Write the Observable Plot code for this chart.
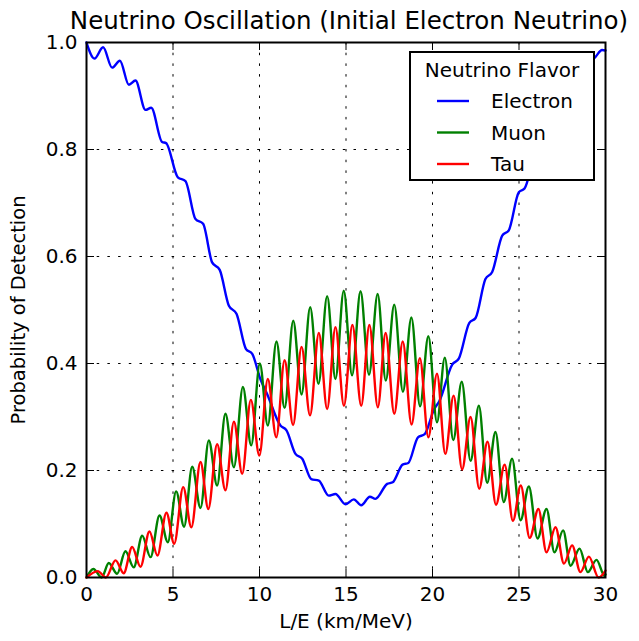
<!DOCTYPE html>
<html>
<head>
<meta charset="utf-8">
<script src="https://cdn.jsdelivr.net/npm/d3@7"></script>
<script src="https://cdn.jsdelivr.net/npm/@observablehq/plot@0.6"></script>
<style>
  html, body { margin: 0; padding: 0; background: white; }
  #chart { width: 639px; height: 641px; }
</style>
</head>
<body>
<div id="chart"></div>
<script>
// ---- data ----
const titleText = "Neutrino Oscillation (Initial Electron Neutrino)";
const xLabel = "L/E (km/MeV)";
const yLabel = "Probability of Detection";
const legendTitle = "Neutrino Flavor";
const flavors = ["Electron", "Muon", "Tau"];
const flavorColors = ["#0000ff", "#008000", "#ff0000"];
const xTicks = [0, 5, 10, 15, 20, 25, 30];
const yTicks = [0, 0.2, 0.4, 0.6, 0.8, 1.0];

const electronX = [0, 0.46, 0.96, 1.48, 1.93, 2.45, 2.83, 3.41, 3.74, 4.37, 4.6, 5.28, 5.72, 6.3, 6.74, 7.26, 7.7, 8.23, 8.67, 9.22, 9.58, 10.06, 10.44, 11.21, 11.56, 12.08, 12.47, 12.99, 13.43, 14.0, 14.39, 14.97, 15.45, 15.88, 16.38, 16.7, 17.38, 17.7, 18.27, 18.6, 19.16, 19.55, 20.1, 20.4, 21.14, 21.52, 22.13, 22.49, 23.06, 23.45, 24.03, 24.41, 24.99, 25.32, 25.95, 26.35, 26.95, 27.3, 27.9, 28.3, 28.9, 29.42, 29.8, 30];
const electronP = [1.0, 0.97, 0.991, 0.953, 0.966, 0.921, 0.929, 0.874, 0.878, 0.814, 0.812, 0.748, 0.741, 0.670, 0.661, 0.589, 0.575, 0.508, 0.493, 0.427, 0.418, 0.370, 0.343, 0.284, 0.275, 0.231, 0.222, 0.184, 0.181, 0.153, 0.156, 0.137, 0.146, 0.135, 0.151, 0.147, 0.175, 0.178, 0.211, 0.214, 0.262, 0.268, 0.315, 0.330, 0.398, 0.409, 0.476, 0.485, 0.558, 0.571, 0.639, 0.649, 0.720, 0.727, 0.790, 0.800, 0.855, 0.860, 0.910, 0.915, 0.955, 0.973, 0.986, 0.985];

const muonX = [0, 0.4, 0.87, 1.29, 1.77, 2.25, 2.73, 3.22, 3.7, 4.22, 4.7, 5.18, 5.64, 6.11, 6.59, 7.07, 7.55, 8.03, 8.52, 9.04, 9.52, 10.02, 10.48, 10.98, 11.45, 11.95, 12.43, 12.93, 13.41, 13.91, 14.39, 14.87, 15.35, 15.84, 16.33, 16.83, 17.3, 17.79, 18.29, 18.78, 19.28, 19.76, 20.26, 20.71, 21.2, 21.69, 22.2, 22.68, 23.16, 23.64, 24.12, 24.6, 25.09, 25.57, 26.07, 26.59, 27.05, 27.55, 27.98, 28.5, 28.98, 29.48, 29.95, 30];
const muonP = [0, 0.016, 0.0, 0.027, 0.007, 0.049, 0.019, 0.078, 0.038, 0.116, 0.066, 0.161, 0.095, 0.207, 0.130, 0.256, 0.172, 0.306, 0.206, 0.356, 0.247, 0.400, 0.284, 0.441, 0.317, 0.480, 0.342, 0.505, 0.362, 0.526, 0.371, 0.536, 0.378, 0.535, 0.379, 0.530, 0.368, 0.510, 0.347, 0.486, 0.320, 0.451, 0.290, 0.411, 0.257, 0.366, 0.218, 0.321, 0.177, 0.272, 0.141, 0.222, 0.107, 0.170, 0.073, 0.128, 0.047, 0.088, 0.022, 0.054, 0.010, 0.033, 0.003, 0.006];

const tauX = [0, 0.65, 1.12, 1.68, 2.15, 2.64, 3.12, 3.64, 4.1, 4.62, 5.07, 5.59, 6.06, 6.59, 7.04, 7.55, 8.03, 8.52, 9.0, 9.5, 9.99, 10.48, 10.97, 11.45, 11.94, 12.43, 12.92, 13.43, 13.91, 14.39, 14.88, 15.37, 15.88, 16.35, 16.84, 17.29, 17.79, 18.28, 18.79, 19.27, 19.76, 20.26, 20.74, 21.22, 21.71, 22.2, 22.7, 23.18, 23.67, 24.17, 24.65, 25.1, 25.62, 26.12, 26.59, 27.11, 27.6, 28.07, 28.55, 29.04, 29.6, 30];
const tauP = [0, 0.012, 0.0, 0.032, 0.008, 0.057, 0.020, 0.086, 0.041, 0.121, 0.063, 0.169, 0.094, 0.216, 0.128, 0.249, 0.163, 0.291, 0.194, 0.332, 0.228, 0.371, 0.262, 0.406, 0.285, 0.431, 0.303, 0.457, 0.315, 0.468, 0.321, 0.472, 0.321, 0.472, 0.318, 0.457, 0.306, 0.441, 0.286, 0.410, 0.262, 0.381, 0.231, 0.340, 0.202, 0.300, 0.166, 0.254, 0.136, 0.211, 0.106, 0.172, 0.074, 0.128, 0.047, 0.094, 0.026, 0.060, 0.010, 0.039, 0.0, 0.013];

// ---- build table ----
const rows = [
  ...electronX.map((x, i) => ({x, p: electronP[i], flavor: "Electron"})),
  ...muonX.map((x, i) => ({x, p: muonP[i], flavor: "Muon"})),
  ...tauX.map((x, i) => ({x, p: tauP[i], flavor: "Tau"}))
];

const W = 639, H = 641, mL = 86, mR = 34, mT = 42, mB = 64;
const frameW = W - mL - mR, frameH = H - mT - mB;
const tickLen = 8;
const grid = {stroke: "black", strokeOpacity: 1, strokeWidth: 1, strokeDasharray: "2.5,8.2"};

const chart = Plot.plot({
  width: W, height: H,
  marginLeft: mL, marginRight: mR, marginTop: mT, marginBottom: mB,
  style: {fontFamily: "'DejaVu Sans', sans-serif", fontSize: "20px", background: "white", color: "black", overflow: "visible"},
  x: {domain: [0, 30]},
  y: {domain: [0, 1]},
  color: {domain: flavors, range: flavorColors},
  marks: [
    Plot.gridX(xTicks, grid),
    Plot.gridY(yTicks, grid),
    Plot.line(rows, {x: "x", y: "p", z: "flavor", stroke: "flavor", strokeWidth: 2.4, curve: "monotone-x"}),
    Plot.ruleX(xTicks, {stroke: "black", strokeWidth: 1, insetTop: frameH - tickLen}),
    Plot.ruleX(xTicks, {stroke: "black", strokeWidth: 1, insetBottom: frameH - tickLen}),
    Plot.ruleY(yTicks, {stroke: "black", strokeWidth: 1, insetRight: frameW - tickLen}),
    Plot.ruleY(yTicks, {stroke: "black", strokeWidth: 1, insetLeft: frameW - tickLen}),
    Plot.frame({stroke: "black", strokeWidth: 2}),
    Plot.axisX(xTicks, {tickSize: 0, tickPadding: 9, label: null, tickFormat: d => String(d)}),
    Plot.axisY(yTicks, {tickSize: 0, tickPadding: 9, label: null, tickFormat: d3.format(".1f")}),
    Plot.text([titleText], {frameAnchor: "top", textAnchor: "middle", dy: -31, dx: 3, fontSize: 24.5}),
    Plot.text([xLabel], {frameAnchor: "bottom", textAnchor: "middle", dy: 50, fontSize: 20}),
    Plot.text([yLabel], {frameAnchor: "left", textAnchor: "middle", dx: -68, rotate: -90, fontSize: 19.5})
  ]
});

// ---- legend (matplotlib-style box) ----
const svg = d3.select(chart);
const lg = svg.append("g").attr("font-family", "'DejaVu Sans', sans-serif").attr("font-size", 20);
const bx = 410, by = 52, bw = 184, bh = 128;
lg.append("rect").attr("x", bx).attr("y", by).attr("width", bw).attr("height", bh)
  .attr("fill", "white").attr("stroke", "black").attr("stroke-width", 2);
lg.append("text").attr("x", bx + bw / 2).attr("y", by + 25).attr("text-anchor", "middle").attr("fill", "black").text(legendTitle);
flavors.forEach((f, i) => {
  const yy = by + 49 + i * 31.5;
  lg.append("line").attr("x1", bx + 27).attr("x2", bx + 59).attr("y1", yy).attr("y2", yy)
    .attr("stroke", flavorColors[i]).attr("stroke-width", 2.4);
  lg.append("text").attr("x", bx + 81).attr("y", yy + 7).attr("text-anchor", "start").attr("fill", "black").text(f);
});

document.getElementById("chart").appendChild(chart);
</script>
</body>
</html>
